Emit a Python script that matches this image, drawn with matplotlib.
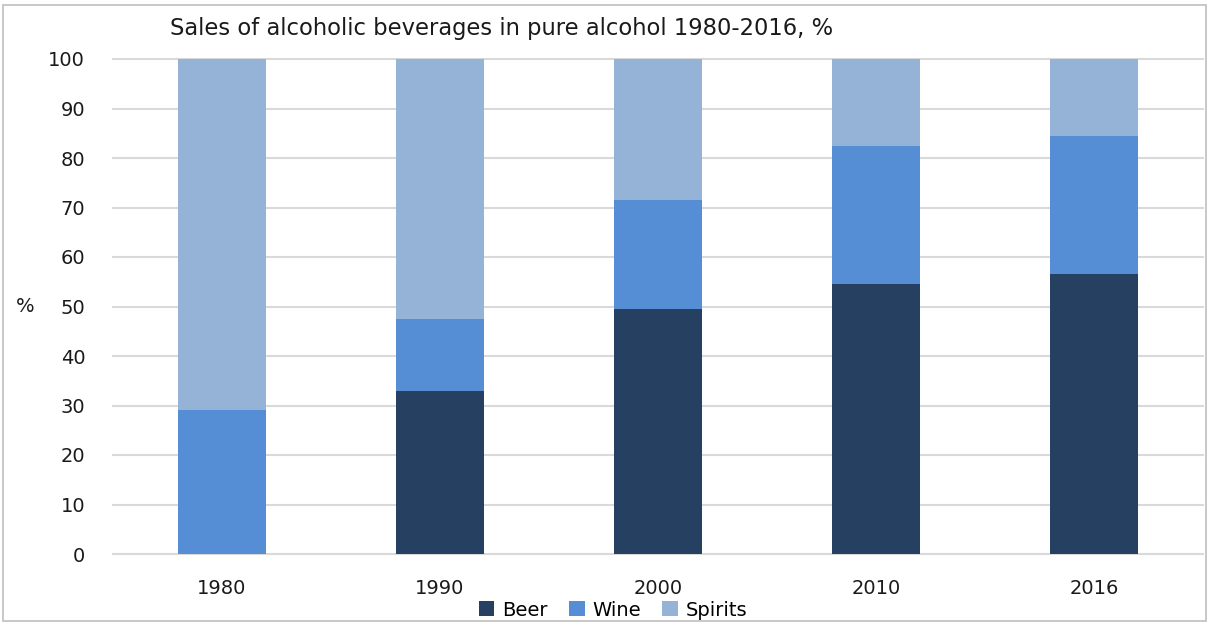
import matplotlib
matplotlib.use("Agg")
import matplotlib.pyplot as plt
import numpy as np
from matplotlib.patches import Rectangle

years = ["1980", "1990", "2000", "2010", "2016"]
beer = [0.0, 33.0, 49.4, 54.5, 56.5]
wine = [29.0, 14.4, 22.1, 28.0, 28.0]
spirits = [71.0, 52.6, 28.5, 17.5, 15.5]
yticks = list(range(0, 101, 10))

c_beer = "#264061"
c_wine = "#558ED5"
c_spirits = "#95B3D7"

fig = plt.figure(figsize=(12.09, 6.23), dpi=100)
ax = fig.add_axes([113/1209, 1-554/623, 1090/1209, 495/623])

x = np.arange(len(years))
w = 0.4
b = np.array(beer)
wn = np.array(wine)
s = np.array(spirits)
ax.bar(x, b, w, color=c_beer, label="Beer", zorder=3)
ax.bar(x, wn, w, bottom=b, color=c_wine, label="Wine", zorder=3)
ax.bar(x, s, w, bottom=b + wn, color=c_spirits, label="Spirits", zorder=3)

ax.set_xlim(-0.5, len(years) - 0.5)
ax.set_ylim(0, 100)
ax.set_yticks(yticks)
ax.set_xticks(x)
ax.set_xticklabels(years)
ax.grid(axis="y", color="#D9D9D9", linewidth=1.5, zorder=0)
ax.set_axisbelow(True)
for gl in ax.get_ygridlines():
    gl.set_clip_on(False)
for sp in ax.spines.values():
    sp.set_visible(False)
ax.tick_params(axis="both", length=0, labelsize=14, colors="#1a1a1a")
ax.tick_params(axis="y", pad=20)
ax.tick_params(axis="x", pad=18)

fig.text(25/1209, 1-307/623, "%", fontsize=14, ha="center", va="center", color="#1a1a1a")
fig.text(502/1209, 1-28/623, "Sales of alcoholic beverages in pure alcohol 1980-2016, %",
         fontsize=16.3, ha="center", va="center", color="#1a1a1a")

leg = fig.legend(loc="center", bbox_to_anchor=(613/1209, 1-610/623), ncol=3, frameon=False,
                 fontsize=14, handlelength=0.8, handleheight=0.8, columnspacing=1.1,
                 handletextpad=0.4)

fig.patches.append(Rectangle((3/1209, 2/623), 1203/1209, 616/623, transform=fig.transFigure,
                             fill=False, edgecolor="#BFBFBF", linewidth=1.2))

fig.savefig("out.png", dpi=100)
